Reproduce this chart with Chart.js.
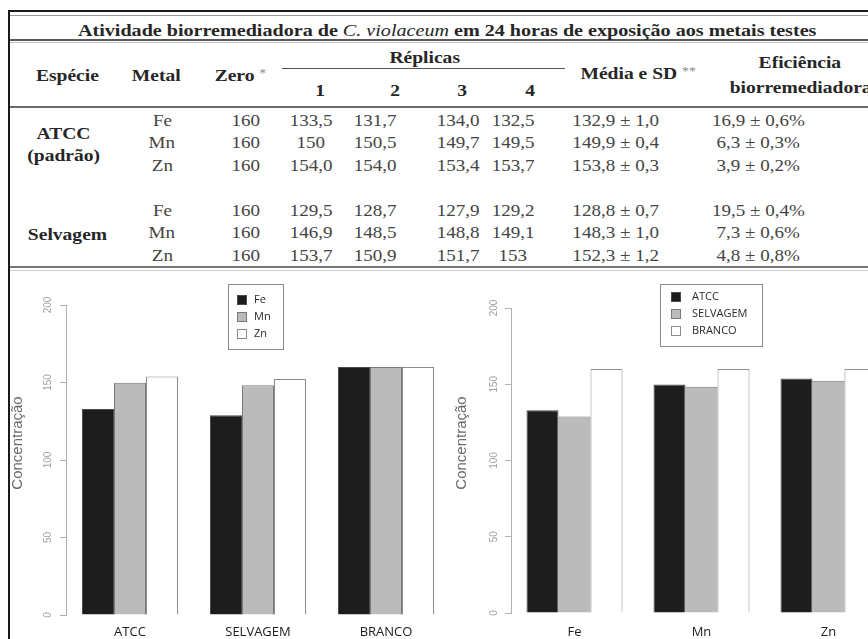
<!DOCTYPE html>
<html>
<head>
<meta charset="utf-8">
<script src="https://cdn.jsdelivr.net/npm/chart.js@4.4.1/dist/chart.umd.min.js"></script>
<style>
html,body{margin:0;padding:0;background:#fff;width:868px;height:639px;overflow:hidden;position:relative}
.t{position:absolute;white-space:nowrap;font-family:'Liberation Serif','Times New Roman',serif;font-size:17px;color:#444;line-height:1;transform-origin:center center}
.b{font-weight:bold;color:#262626}
.ln{position:absolute}
.ast{color:#8a8a8a;font-weight:normal;font-size:12px;vertical-align:4px}
#leftBox{position:absolute;left:0;top:270px;width:437px;height:369px;overflow:hidden}
#rightBox{position:absolute;left:434px;top:270px;width:434px;height:369px;overflow:hidden}
canvas{display:block}
</style>
</head>
<body>
<div id="table"></div>
<div id="leftBox"><canvas id="cLeft" width="450" height="369"></canvas></div>
<div id="rightBox"><canvas id="cRight" width="458" height="369"></canvas></div>
<script>
// ---- data ----
const metals = ['Fe', 'Mn', 'Zn'];
const strains = ['ATCC', 'SELVAGEM', 'BRANCO'];
const zeroConc = 160;
const blankMean = [160, 160, 160];

const atccReplicas = [
  ['133,5', '131,7', '134,0', '132,5'],
  ['150', '150,5', '149,7', '149,5'],
  ['154,0', '154,0', '153,4', '153,7']
];
const wildReplicas = [
  ['129,5', '128,7', '127,9', '129,2'],
  ['146,9', '148,5', '148,8', '149,1'],
  ['153,7', '150,9', '151,7', '153']
];
const atccMean = [132.9, 149.9, 153.8];
const atccSD = [1.0, 0.4, 0.3];
const wildMean = [128.8, 148.3, 152.3];
const wildSD = [0.7, 1.0, 1.2];
const atccEff = [16.9, 6.3, 3.9];
const atccEffSD = [0.6, 0.3, 0.2];
const wildEff = [19.5, 7.3, 4.8];
const wildEffSD = [0.4, 0.6, 0.8];

const yTicks = [0, 50, 100, 150, 200];
const barFill = ['#1d1d1d', '#bbbbbb', '#ffffff'];
const barEdge = ['#4a4a4a', '#7a7a7a', '#8c8c8c'];

// ---- table ----
const tbl = document.getElementById('table');
const fmt = v => v.toFixed(1).replace('.', ',');

function put(html, cx, cy, cls, sx) {
  const d = document.createElement('div');
  d.className = 't ' + (cls || '');
  d.innerHTML = html;
  tbl.appendChild(d);
  const w = d.offsetWidth, h = d.offsetHeight;
  d.style.left = (cx - w / 2) + 'px';
  d.style.top = (cy - h / 2) + 'px';
  if (sx) d.style.transform = 'scaleX(' + sx + ')';
  return d;
}
function fitTitle(html, cx, cy, width) {
  const d = put(html, cx, cy, 'b');
  d.style.transform = 'scaleX(' + (width / d.offsetWidth) + ')';
}
function hline(x, y, w, h, color) {
  const d = document.createElement('div');
  d.className = 'ln';
  Object.assign(d.style, {left: x + 'px', top: y + 'px', width: w + 'px', height: h + 'px', background: color});
  tbl.appendChild(d);
}

hline(8, 10, 860, 2, '#1a1a1a');
hline(8, 15, 860, 1, '#9a9a9a');
hline(8, 39, 860, 1.5, '#5a5a5a');
hline(8, 42, 860, 1, '#c4c4c4');
hline(282, 68, 283, 1, '#555');
hline(8, 106, 860, 2, '#6a6a6a');
hline(8, 266, 860, 2, '#777');
hline(8, 270, 860, 1, '#d0d0d0');
hline(8, 10, 1.5, 629, '#1a1a1a');

fitTitle('Atividade biorremediadora de <i style="font-weight:normal">C. violaceum</i> em 24 horas de exposição aos metais testes', 447, 30, 738);

const HS = 1.15;
put('Espécie', 67, 75, 'b', HS);
put('Metal', 156, 75, 'b', HS);
put('Zero <span class="ast">*</span>', 240, 75, 'b', HS);
put('Réplicas', 424, 57, 'b', HS);
['1', '2', '3', '4'].forEach((s, i) => put(s, [320, 395, 462, 530][i], 90, 'b', HS));
put('Média e SD <span class="ast">**</span>', 638, 73, 'b', HS);
put('Eficiência', 800, 62, 'b', HS);
put('biorremediadora', 800, 87, 'b', HS);

put('ATCC', 63, 133, 'b', HS);
put('(padrão)', 63, 155, 'b', HS);
put('Selvagem', 67, 234, 'b', HS);

const NS = 1.12;
const repX = [311, 375, 458, 513];
function rows(reps, mean, sd, eff, effSD, y0) {
  metals.forEach((m, i) => {
    const y = y0 + i * 22.5;
    put(m, 162, y, '', NS);
    put(String(zeroConc), 246, y, '', NS);
    reps[i].forEach((r, j) => put(r, repX[j], y, '', NS));
    put(fmt(mean[i]) + ' ± ' + fmt(sd[i]), 615, y, '', NS);
    put(fmt(eff[i]) + ' ± ' + fmt(effSD[i]) + '%', 758, y, '', NS);
  });
}
rows(atccReplicas, atccMean, atccSD, atccEff, atccEffSD, 120);
rows(wildReplicas, wildMean, wildSD, wildEff, wildEffSD, 210);

// ---- charts ----
// base-graphics style y axis labels, axis title and boxed legend
const rStyle = {
  id: 'rStyle',
  afterDraw(chart, args, o) {
    const ctx = chart.ctx, ys = chart.scales.y, a = chart.chartArea;
    ctx.save();
    ctx.fillStyle = '#a0a0a0';
    ctx.font = '10px "Liberation Sans", Arial, sans-serif';
    ctx.textAlign = 'center';
    ctx.textBaseline = 'middle';
    ys.ticks.forEach(t => {
      ctx.save();
      ctx.translate(a.left - o.labelGap, ys.getPixelForValue(t.value));
      ctx.rotate(-Math.PI / 2);
      ctx.fillText(t.label, 0, 0);
      ctx.restore();
    });
    ctx.fillStyle = '#6a6a6a';
    ctx.font = '15px "Liberation Sans", Arial, sans-serif';
    ctx.save();
    ctx.translate(o.titleX, o.titleY);
    ctx.rotate(-Math.PI / 2);
    ctx.fillText('Concentração', 0, 0);
    ctx.restore();

    const L = o.legend;
    ctx.strokeStyle = '#8a8a8a';
    ctx.lineWidth = 1;
    ctx.strokeRect(L.x + 0.5, L.y + 0.5, L.w, L.h);
    ctx.font = '11px "Open Sans", sans-serif';
    ctx.textAlign = 'left';
    chart.data.datasets.forEach((ds, i) => {
      const cy = L.y + L.first + i * L.step;
      ctx.fillStyle = ds.backgroundColor;
      ctx.fillRect(L.sx, cy - 5, 10, 10);
      ctx.strokeStyle = ds.borderColor;
      ctx.strokeRect(L.sx + 0.5, cy - 4.5, 9, 9);
      ctx.fillStyle = '#2a2a2a';
      ctx.fillText(ds.label, L.tx, cy);
    });
    ctx.restore();
  }
};

function barChart(id, labels, names, series, g) {
  return new Chart(document.getElementById(id), {
    type: 'bar',
    data: {
      labels: labels,
      datasets: names.map((n, i) => ({
        label: n, data: series[i],
        backgroundColor: barFill[i], borderColor: barEdge[i], borderWidth: 1,
        categoryPercentage: g.cat, barPercentage: 1
      }))
    },
    options: {
      responsive: false, animation: false, devicePixelRatio: 1,
      layout: {padding: {top: g.top, left: 0, right: 0, bottom: 0}},
      plugins: {
        legend: {display: false}, tooltip: {enabled: false},
        rStyle: {labelGap: g.labelGap, titleX: g.titleX, titleY: g.titleY, legend: g.legend}
      },
      scales: {
        x: {
          grid: {display: false, drawTicks: false, tickLength: 0},
          border: {display: false},
          ticks: {color: '#202020', font: {family: 'Open Sans', size: 13}, padding: g.xpad, maxRotation: 0},
          afterFit(s) { s.height = g.xh; }
        },
        y: {
          min: 0, max: 200,
          afterBuildTicks(s) { s.ticks = yTicks.map(v => ({value: v, label: String(v)})); },
          ticks: {display: false},
          grid: {drawOnChartArea: false, drawTicks: true, tickLength: 6, color: '#b0b0b0'},
          border: {color: '#b0b0b0'},
          afterFit(s) { s.width = g.yw; }
        }
      }
    },
    plugins: [rStyle]
  });
}

// concentration by strain, one bar per metal
barChart('cLeft', strains, metals,
  metals.map((m, i) => [atccMean[i], wildMean[i], blankMean[i]]),
  {cat: 0.75, top: 35, xh: 24, yw: 66, xpad: 9, labelGap: 18, titleX: 18, titleY: 173,
   legend: {x: 228, y: 14, w: 55, h: 65, first: 16, step: 17, sx: 237, tx: 254}});

// concentration by metal, one bar per strain
barChart('cRight', metals, strains,
  [atccMean, wildMean, blankMean],
  {cat: 0.756, top: 38, xh: 26, yw: 77, xpad: 11, labelGap: 17, titleX: 28, titleY: 173,
   legend: {x: 226, y: 14, w: 102, h: 62, first: 13, step: 17, sx: 237, tx: 258}});
</script>
</body>
</html>
